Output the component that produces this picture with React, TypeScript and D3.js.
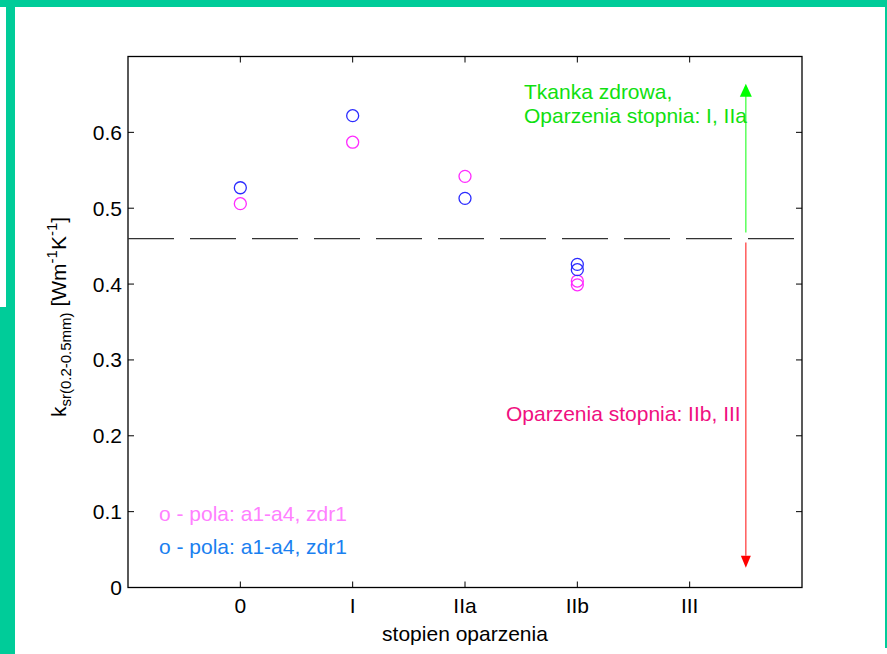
import React, { useRef, useEffect } from 'react';
import * as d3 from 'd3';

// stopien oparzenia (x axis categories)
const categories = ['0', 'I', 'IIa', 'IIb', 'III'];

// magenta series
const pinkCats = ['0', 'I', 'IIa', 'IIb', 'IIb'];
const pinkValues = [0.506, 0.587, 0.542, 0.404, 0.399];

// blue series
const blueCats = ['0', 'I', 'IIa', 'IIb', 'IIb'];
const blueValues = [0.527, 0.622, 0.513, 0.426, 0.419];

const yTicks = [0, 0.1, 0.2, 0.3, 0.4, 0.5, 0.6];
const threshold = 0.46;
const arrowTop = 0.664;
const arrowBottom = 0.026;

const FONT = '"Liberation Sans", Arial, Helvetica, sans-serif';

const App: React.FC = () => {
  const svgRef = useRef<SVGSVGElement>(null);

  useEffect(() => {
    if (!svgRef.current) return;
    const W = 887;
    const H = 654;
    const margin = { top: 56.5, right: 85, bottom: 66.5, left: 128 };
    const width = W - margin.left - margin.right;
    const height = H - margin.top - margin.bottom;

    const svg = d3.select(svgRef.current).attr('width', W).attr('height', H);
    svg.selectAll('*').remove();

    // slide frame
    svg.append('rect').attr('x', 0).attr('y', 0).attr('width', W).attr('height', H).attr('fill', '#fff');
    svg.append('rect').attr('x', 0).attr('y', 0).attr('width', W).attr('height', 7).attr('fill', '#00cc99');
    svg.append('rect').attr('x', 6).attr('y', 0).attr('width', 9).attr('height', H).attr('fill', '#00cc99');
    svg.append('rect').attr('x', 0).attr('y', 307).attr('width', 15).attr('height', H - 307).attr('fill', '#00cc99');
    svg.append('rect').attr('x', 885).attr('y', 7).attr('width', 2).attr('height', 641).attr('fill', '#00cc99');

    const g = svg.append('g').attr('transform', `translate(${margin.left},${margin.top})`);

    // categories sit at 1..5 on a 0..6 axis
    const x = d3.scaleLinear().domain([0, categories.length + 1]).range([0, width]);
    const xc = (c: string) => x(categories.indexOf(c) + 1);
    const y = d3.scaleLinear().domain([0, 0.7]).range([height, 0]);

    const tickLen = 6;

    // ticks (inward, on all four sides)
    categories.forEach(c => {
      const px = xc(c);
      g.append('line').attr('x1', px).attr('x2', px).attr('y1', height).attr('y2', height - tickLen).attr('stroke', '#000');
      g.append('line').attr('x1', px).attr('x2', px).attr('y1', 0).attr('y2', tickLen).attr('stroke', '#000');
      g.append('text')
        .attr('x', px).attr('y', height + 25)
        .attr('text-anchor', 'middle')
        .attr('font-family', FONT).attr('font-size', 21)
        .text(c);
    });

    yTicks.forEach(t => {
      const py = y(t);
      g.append('line').attr('x1', 0).attr('x2', tickLen).attr('y1', py).attr('y2', py).attr('stroke', '#000');
      g.append('line').attr('x1', width).attr('x2', width - tickLen).attr('y1', py).attr('y2', py).attr('stroke', '#000');
      g.append('text')
        .attr('x', -6).attr('y', py)
        .attr('dy', '0.36em')
        .attr('text-anchor', 'end')
        .attr('font-family', FONT).attr('font-size', 21)
        .text(String(t));
    });

    // box
    g.append('rect')
      .attr('x', 0).attr('y', 0).attr('width', width).attr('height', height)
      .attr('fill', 'none').attr('stroke', '#000').attr('stroke-width', 1.3);

    // threshold line
    g.append('line')
      .attr('x1', 0).attr('x2', width)
      .attr('y1', y(threshold)).attr('y2', y(threshold))
      .attr('stroke', '#333').attr('stroke-width', 1.2)
      .attr('stroke-dasharray', '46 16');

    // points
    const drawSeries = (cats: string[], vals: number[], color: string) => {
      g.selectAll(null)
        .data(vals)
        .enter()
        .append('circle')
        .attr('cx', (d, i) => xc(cats[i]))
        .attr('cy', d => y(d))
        .attr('r', 6)
        .attr('fill', 'none')
        .attr('stroke', color)
        .attr('stroke-width', 1.3);
    };
    drawSeries(pinkCats, pinkValues, '#ff2bff');
    drawSeries(blueCats, blueValues, '#2b2bff');

    // arrows
    const ax = x(categories.length + 0.5);
    g.append('line')
      .attr('x1', ax).attr('x2', ax)
      .attr('y1', y(threshold) - 6).attr('y2', y(arrowTop) + 12)
      .attr('stroke', '#44ff44').attr('stroke-width', 1.3);
    g.append('path')
      .attr('d', `M${ax},${y(arrowTop)} L${ax - 6},${y(arrowTop) + 13} L${ax + 6},${y(arrowTop) + 13} Z`)
      .attr('fill', '#00ff00');
    g.append('line')
      .attr('x1', ax).attr('x2', ax)
      .attr('y1', y(threshold) + 4).attr('y2', y(arrowBottom) - 12)
      .attr('stroke', '#ff4444').attr('stroke-width', 1.3);
    g.append('path')
      .attr('d', `M${ax},${y(arrowBottom)} L${ax - 5},${y(arrowBottom) - 12} L${ax + 5},${y(arrowBottom) - 12} Z`)
      .attr('fill', '#ff0000');

    // annotations
    const green = g.append('text')
      .attr('font-family', FONT).attr('font-size', 21).attr('fill', '#10e010');
    green.append('tspan').attr('x', 396).attr('y', 42.5).text('Tkanka zdrowa,');
    green.append('tspan').attr('x', 396).attr('y', 66).text('Oparzenia stopnia: I, IIa');

    g.append('text')
      .attr('x', 378).attr('y', 364)
      .attr('font-family', FONT).attr('font-size', 21).attr('fill', '#f0107f')
      .text('Oparzenia stopnia: IIb, III');

    g.append('text')
      .attr('x', 31).attr('y', 464)
      .attr('font-family', FONT).attr('font-size', 21).attr('fill', '#ff80ff')
      .text('o - pola: a1-a4, zdr1');
    g.append('text')
      .attr('x', 31).attr('y', 497)
      .attr('font-family', FONT).attr('font-size', 21).attr('fill', '#1a80f0')
      .text('o - pola: a1-a4, zdr1');

    // axis labels
    g.append('text')
      .attr('x', width / 2).attr('y', height + 53)
      .attr('text-anchor', 'middle')
      .attr('font-family', FONT).attr('font-size', 21)
      .text('stopien oparzenia');

    const yl = svg.append('text')
      .attr('transform', `translate(66,317) rotate(-90)`)
      .attr('text-anchor', 'middle')
      .attr('font-family', FONT).attr('font-size', 21);
    yl.append('tspan').text('k');
    yl.append('tspan').attr('font-size', 15).attr('dy', 5).text('sr(0.2-0.5mm)');
    yl.append('tspan').attr('dy', -5).text(' [Wm');
    yl.append('tspan').attr('font-size', 15).attr('dy', -9).text('-1');
    yl.append('tspan').attr('dy', 9).text('K');
    yl.append('tspan').attr('font-size', 15).attr('dy', -9).text('-1');
    yl.append('tspan').attr('dy', 9).text(']');
  }, []);

  return (
    <div style={{ position: 'absolute', left: 0, top: 0 }}>
      <svg ref={svgRef} style={{ display: 'block' }} />
    </div>
  );
};

export default App;
